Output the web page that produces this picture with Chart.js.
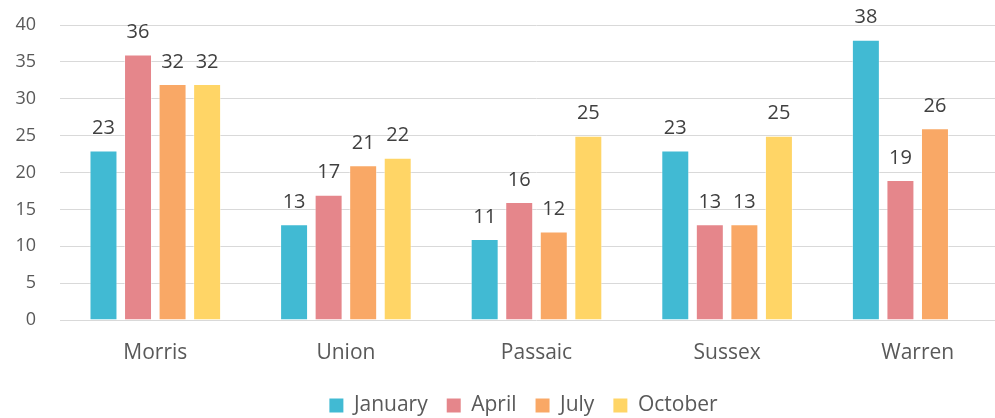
<!DOCTYPE html>
<html>
<head>
<meta charset="utf-8">
<script src="https://cdn.jsdelivr.net/npm/chart.js@4"></script>
<style>
  html, body { margin: 0; padding: 0; overflow: hidden; background: #fff; }
  .wrap { width: 1048px; height: 418px; }
</style>
</head>
<body>
<div class="wrap"><canvas id="countyChart" width="1048" height="418"></canvas></div>
<script>
// chart data
const counties = ['Morris', 'Union', 'Passaic', 'Sussex', 'Warren'];
const january = [23, 13, 11, 23, 38];
const april = [36, 17, 16, 13, 19];
const july = [32, 21, 12, 13, 26];
const october = [32, 22, 25, 25, null];
const yTicks = [0, 5, 10, 15, 20, 25, 30, 35, 40];

const fontFamily = "'Open Sans', 'Lato', sans-serif";
const textColor = '#595959';
const barEdge = 'rgba(255,255,255,0.45)';

// draw value labels above each bar
const barLabels = {
  id: 'barLabels',
  afterDatasetsDraw(chart) {
    const ctx = chart.ctx;
    ctx.save();
    ctx.font = '20px ' + fontFamily;
    ctx.fillStyle = '#404040';
    ctx.textAlign = 'center';
    ctx.textBaseline = 'bottom';
    chart.data.datasets.forEach((ds, i) => {
      chart.getDatasetMeta(i).data.forEach((bar, j) => {
        if (ds.data[j] == null) return;
        ctx.fillText(ds.data[j], bar.x, bar.y - 12);
      });
    });
    ctx.restore();
  }
};

// nudge the legend so it sits centred like the original
const legendShift = {
  id: 'legendShift',
  afterLayout(chart) {
    chart.legend.left += 17;
    chart.legend.right += 17;
  }
};

const countyChart = new Chart(document.getElementById('countyChart'), {
  type: 'bar',
  data: {
    labels: counties,
    datasets: [
      { label: 'January', data: january, backgroundColor: '#41BAD3', borderColor: barEdge, borderWidth: 1 },
      { label: 'April', data: april, backgroundColor: '#E5868B', borderColor: barEdge, borderWidth: 1 },
      { label: 'July', data: july, backgroundColor: '#F9A866', borderColor: barEdge, borderWidth: 1 },
      { label: 'October', data: october, backgroundColor: '#FFD566', borderColor: barEdge, borderWidth: 1 }
    ]
  },
  options: {
    responsive: false,
    animation: false,
    datasets: {
      bar: { categoryPercentage: 0.725, barPercentage: 0.81 }
    },
    layout: { padding: { top: 25, right: 35, left: 0, bottom: -8 } },
    plugins: {
      tooltip: { enabled: false },
      legend: {
        position: 'bottom',
        labels: {
          color: textColor,
          font: { family: fontFamily, size: 21 },
          boxWidth: 14,
          boxHeight: 14,
          padding: 19,
          generateLabels(chart) {
            return Chart.defaults.plugins.legend.labels.generateLabels(chart).map(item => {
              item.lineWidth = 0;
              return item;
            });
          }
        }
      }
    },
    scales: {
      x: {
        grid: { display: false },
        border: { display: false },
        ticks: {
          color: textColor,
          font: { family: fontFamily, size: 21 },
          padding: 12
        },
        afterFit(scale) { scale.height = 56; }
      },
      y: {
        min: 0,
        max: 40,
        afterBuildTicks(scale) { scale.ticks = yTicks.map(v => ({ value: v })); },
        grid: { color: '#D9D9D9', lineWidth: 1, drawTicks: true, tickLength: 20, tickColor: 'rgba(0,0,0,0)' },
        border: { display: false },
        ticks: {
          color: textColor,
          font: { family: fontFamily, size: 18 },
          padding: 4
        },
        afterFit(scale) { scale.width = 60; }
      }
    }
  },
  plugins: [barLabels, legendShift]
});
</script>
</body>
</html>
